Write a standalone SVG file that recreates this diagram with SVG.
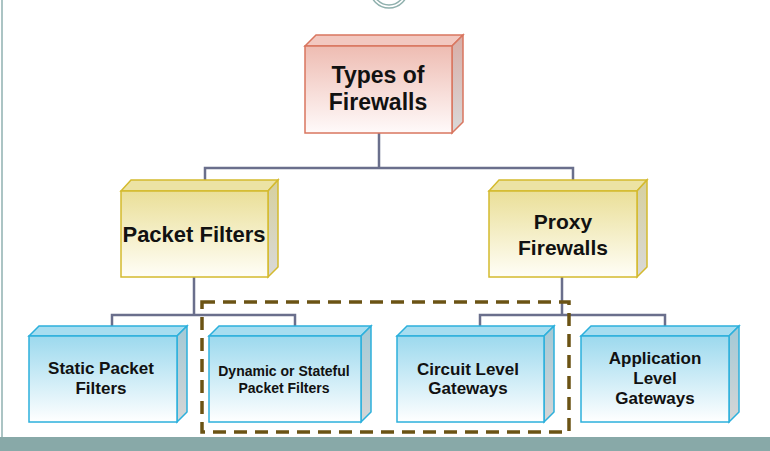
<svg xmlns="http://www.w3.org/2000/svg" width="770" height="451" viewBox="0 0 770 451">
<defs>
<linearGradient id="gRed" x1="0" y1="0" x2="0" y2="1"><stop offset="0" stop-color="#eebcb2"/><stop offset="1" stop-color="#fffafa"/></linearGradient>
<linearGradient id="gRedS" x1="0" y1="0" x2="0" y2="1"><stop offset="0" stop-color="#d8ada6"/><stop offset="1" stop-color="#d9d9d9"/></linearGradient>
<linearGradient id="gYel" x1="0" y1="0" x2="0" y2="1"><stop offset="0" stop-color="#eadf98"/><stop offset="1" stop-color="#fffef7"/></linearGradient>
<linearGradient id="gYelS" x1="0" y1="0" x2="0" y2="1"><stop offset="0" stop-color="#d6d09e"/><stop offset="1" stop-color="#d9d9d9"/></linearGradient>
<linearGradient id="gBlu" x1="0" y1="0" x2="0" y2="1"><stop offset="0" stop-color="#9cd9ee"/><stop offset="1" stop-color="#ffffff"/></linearGradient>
<linearGradient id="gBluS" x1="0" y1="0" x2="0" y2="1"><stop offset="0" stop-color="#a2c9d6"/><stop offset="1" stop-color="#d6d6d6"/></linearGradient>
</defs>
<style>
.red{stroke:#d9765f;stroke-width:1.5}
.yel{stroke:#d4ba2e;stroke-width:1.5}
.blu{stroke:#2cb0dc;stroke-width:1.5}
.conn{fill:none;stroke:#6a6f8c;stroke-width:2.5}
.t{font-family:"Comic Sans MS","Liberation Sans",sans-serif;font-weight:bold;fill:#111;text-anchor:middle}
</style>
<rect x="0" y="0" width="770" height="451" fill="#ffffff"/>
<line x1="2" y1="0" x2="2" y2="437" stroke="#8fb0b0" stroke-width="1.5"/>
<rect x="0" y="437" width="770" height="14" fill="#88a9a8"/>
<g id="top-ornament" fill="none" stroke="#8fb0ad" stroke-width="1.5">
<circle cx="389" cy="-11" r="19"/>
<circle cx="389" cy="-11" r="16"/>
</g>
<g id="connectors">
<path class="conn" d="M379 133 V168 M205 180 V168 H573 V180"/>
<path class="conn" d="M194 277 V315 M112 326 V315 H295 V326"/>
<path class="conn" d="M562 277 V315 M480 326 V315 H665 V326"/>
</g>
<g id="n-types">
<polygon class="red" fill="#f2c8c0" points="305,46 316,35 463,35 452,46"/>
<polygon class="red" fill="url(#gRedS)" points="452,46 463,35 463,122 452,133"/>
<rect class="red" fill="url(#gRed)" x="305" y="46" width="147" height="87"/>
<text class="t" font-size="23" x="378" y="83">Types of</text>
<text class="t" font-size="23" x="378" y="110">Firewalls</text>
</g>
<g id="n-packet">
<polygon class="yel" fill="#ece3a4" points="121,191 131,180 278,180 268,191"/>
<polygon class="yel" fill="url(#gYelS)" points="268,191 278,180 278,267 268,277"/>
<rect class="yel" fill="url(#gYel)" x="121" y="191" width="147" height="86"/>
<text class="t" font-size="22" x="194" y="242">Packet Filters</text>
</g>
<g id="n-proxy">
<polygon class="yel" fill="#ece3a4" points="489,191 499,180 647,180 637,191"/>
<polygon class="yel" fill="url(#gYelS)" points="637,191 647,180 647,267 637,277"/>
<rect class="yel" fill="url(#gYel)" x="489" y="191" width="148" height="86"/>
<text class="t" font-size="21" x="563" y="229">Proxy</text>
<text class="t" font-size="21" x="563" y="255">Firewalls</text>
</g>
<g id="n-static">
<polygon class="blu" fill="#a6ddf0" points="29,336 39,326 187,326 177,336"/>
<polygon class="blu" fill="url(#gBluS)" points="177,336 187,326 187,412 177,422"/>
<rect class="blu" fill="url(#gBlu)" x="29" y="336" width="148" height="86"/>
<text class="t" font-size="17" x="101" y="374">Static Packet</text>
<text class="t" font-size="17" x="101" y="394">Filters</text>
</g>
<g id="n-dynamic">
<polygon class="blu" fill="#a6ddf0" points="209,336 219,326 371,326 361,336"/>
<polygon class="blu" fill="url(#gBluS)" points="361,336 371,326 371,412 361,422"/>
<rect class="blu" fill="url(#gBlu)" x="209" y="336" width="152" height="86"/>
<text class="t" font-size="14" x="284" y="376">Dynamic or Stateful</text>
<text class="t" font-size="14" x="284" y="393">Packet Filters</text>
</g>
<g id="n-circuit">
<polygon class="blu" fill="#a6ddf0" points="397,336 407,326 554,326 544,336"/>
<polygon class="blu" fill="url(#gBluS)" points="544,336 554,326 554,412 544,422"/>
<rect class="blu" fill="url(#gBlu)" x="397" y="336" width="147" height="86"/>
<text class="t" font-size="17" x="468" y="375">Circuit Level</text>
<text class="t" font-size="17" x="468" y="394">Gateways</text>
</g>
<g id="n-application">
<polygon class="blu" fill="#a6ddf0" points="581,336 591,326 739,326 729,336"/>
<polygon class="blu" fill="url(#gBluS)" points="729,336 739,326 739,412 729,422"/>
<rect class="blu" fill="url(#gBlu)" x="581" y="336" width="148" height="86"/>
<text class="t" font-size="17" x="655" y="364">Application</text>
<text class="t" font-size="17" x="655" y="384">Level</text>
<text class="t" font-size="17" x="655" y="404">Gateways</text>
</g>
<rect id="highlight" x="202" y="302" width="367" height="130" fill="none" stroke="#6b5314" stroke-width="3.5" stroke-dasharray="13 8"/>
</svg>
